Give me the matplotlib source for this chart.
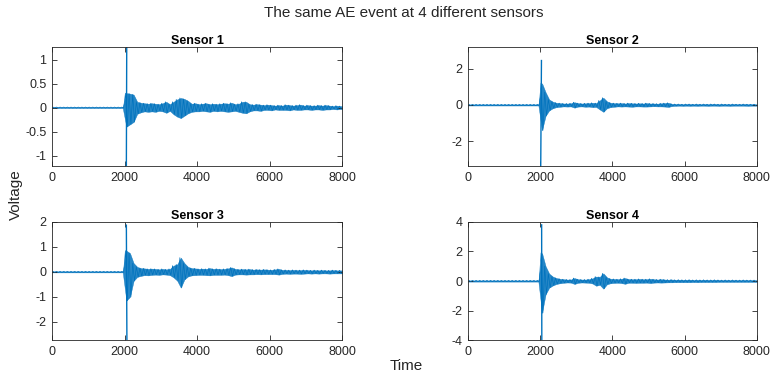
import matplotlib
matplotlib.use("Agg")
import numpy as np
import matplotlib.pyplot as plt

plt.rcParams['font.family'] = ['Liberation Sans', 'DejaVu Sans']
plt.rcParams['axes.unicode_minus'] = False

# envelope of each waveform, one value per 100-sample bin (t = 0 ... 7900)
bin_start = list(range(0, 8000, 100))

s1_up = [0.01, 0.01, 0.01, 0.01, 0.01, 0.01, 0.01, 0.01, 0.01, 0.01,
         0.01, 0.01, 0.01, 0.01, 0.01, 0.01, 0.01, 0.01, 0.01, 0.01,
         0.30, 0.29, 0.27, 0.12, 0.10, 0.09, 0.08, 0.09, 0.08, 0.07,
         0.09, 0.12, 0.07, 0.12, 0.17, 0.20, 0.18, 0.14, 0.08, 0.09,
         0.07, 0.08, 0.09, 0.07, 0.08, 0.07, 0.08, 0.09, 0.08, 0.10,
         0.07, 0.08, 0.12, 0.12, 0.07, 0.06, 0.07, 0.06, 0.05, 0.06,
         0.05, 0.04, 0.05, 0.04, 0.06, 0.05, 0.04, 0.05, 0.06, 0.04,
         0.05, 0.04, 0.04, 0.05, 0.04, 0.05, 0.04, 0.03, 0.04, 0.03]
s1_lo = [-0.01, -0.01, -0.01, -0.01, -0.01, -0.01, -0.01, -0.01, -0.01, -0.01,
         -0.01, -0.01, -0.01, -0.01, -0.01, -0.01, -0.01, -0.01, -0.01, -0.01,
         -0.40, -0.35, -0.30, -0.13, -0.10, -0.08, -0.09, -0.08, -0.09, -0.07,
         -0.08, -0.11, -0.07, -0.14, -0.19, -0.22, -0.17, -0.12, -0.09, -0.08,
         -0.08, -0.07, -0.08, -0.09, -0.07, -0.08, -0.07, -0.08, -0.09, -0.08,
         -0.07, -0.09, -0.11, -0.12, -0.08, -0.06, -0.06, -0.07, -0.05, -0.05,
         -0.06, -0.04, -0.05, -0.05, -0.05, -0.06, -0.04, -0.05, -0.05, -0.04,
         -0.04, -0.05, -0.04, -0.04, -0.05, -0.04, -0.04, -0.03, -0.04, -0.03]

s2_up = [0.03, 0.03, 0.03, 0.03, 0.03, 0.03, 0.03, 0.03, 0.03, 0.03,
         0.03, 0.03, 0.03, 0.03, 0.03, 0.03, 0.03, 0.03, 0.03, 0.03,
         1.20, 0.70, 0.30, 0.18, 0.12, 0.10, 0.08, 0.08, 0.09, 0.15,
         0.10, 0.08, 0.09, 0.10, 0.12, 0.10, 0.25, 0.40, 0.20, 0.12,
         0.10, 0.09, 0.10, 0.08, 0.10, 0.09, 0.08, 0.09, 0.08, 0.10,
         0.08, 0.08, 0.07, 0.09, 0.10, 0.12, 0.06, 0.05, 0.05, 0.04,
         0.05, 0.05, 0.04, 0.05, 0.04, 0.05, 0.04, 0.05, 0.05, 0.04,
         0.05, 0.04, 0.04, 0.05, 0.04, 0.04, 0.05, 0.04, 0.04, 0.04]
s2_lo = [-0.03, -0.03, -0.03, -0.03, -0.03, -0.03, -0.03, -0.03, -0.03, -0.03,
         -0.03, -0.03, -0.03, -0.03, -0.03, -0.03, -0.03, -0.03, -0.03, -0.03,
         -1.40, -0.60, -0.30, -0.18, -0.12, -0.10, -0.08, -0.09, -0.08, -0.15,
         -0.09, -0.08, -0.10, -0.09, -0.12, -0.11, -0.25, -0.38, -0.18, -0.12,
         -0.10, -0.08, -0.09, -0.08, -0.09, -0.10, -0.08, -0.08, -0.09, -0.09,
         -0.08, -0.07, -0.08, -0.08, -0.09, -0.11, -0.06, -0.05, -0.04, -0.05,
         -0.04, -0.05, -0.04, -0.05, -0.04, -0.04, -0.05, -0.04, -0.04, -0.05,
         -0.04, -0.04, -0.05, -0.04, -0.04, -0.04, -0.04, -0.05, -0.04, -0.04]

s3_up = [0.02, 0.02, 0.02, 0.02, 0.02, 0.02, 0.02, 0.02, 0.02, 0.02,
         0.02, 0.02, 0.02, 0.02, 0.02, 0.02, 0.02, 0.02, 0.02, 0.02,
         0.85, 0.75, 0.35, 0.20, 0.15, 0.14, 0.12, 0.13, 0.12, 0.10,
         0.12, 0.10, 0.12, 0.25, 0.30, 0.57, 0.35, 0.20, 0.15, 0.14,
         0.12, 0.13, 0.12, 0.15, 0.12, 0.13, 0.11, 0.12, 0.14, 0.18,
         0.12, 0.10, 0.11, 0.10, 0.11, 0.09, 0.10, 0.09, 0.10, 0.09,
         0.08, 0.10, 0.12, 0.08, 0.08, 0.07, 0.08, 0.07, 0.07, 0.08,
         0.07, 0.06, 0.07, 0.06, 0.07, 0.06, 0.06, 0.07, 0.06, 0.06]
s3_lo = [-0.02, -0.02, -0.02, -0.02, -0.02, -0.02, -0.02, -0.02, -0.02, -0.02,
         -0.02, -0.02, -0.02, -0.02, -0.02, -0.02, -0.02, -0.02, -0.02, -0.02,
         -1.15, -1.00, -0.36, -0.20, -0.16, -0.13, -0.14, -0.12, -0.11, -0.12,
         -0.10, -0.11, -0.13, -0.22, -0.35, -0.63, -0.30, -0.18, -0.14, -0.13,
         -0.12, -0.12, -0.13, -0.14, -0.12, -0.12, -0.12, -0.11, -0.13, -0.17,
         -0.11, -0.10, -0.10, -0.11, -0.10, -0.10, -0.09, -0.10, -0.09, -0.09,
         -0.09, -0.09, -0.11, -0.08, -0.07, -0.08, -0.07, -0.07, -0.08, -0.07,
         -0.06, -0.07, -0.06, -0.07, -0.06, -0.06, -0.07, -0.06, -0.06, -0.06]

s4_up = [0.04, 0.04, 0.04, 0.04, 0.04, 0.04, 0.04, 0.04, 0.04, 0.04,
         0.04, 0.04, 0.04, 0.04, 0.04, 0.04, 0.04, 0.04, 0.04, 0.04,
         1.90, 1.00, 0.50, 0.30, 0.20, 0.15, 0.12, 0.10, 0.10, 0.20,
         0.12, 0.10, 0.10, 0.12, 0.18, 0.30, 0.28, 0.52, 0.25, 0.15,
         0.14, 0.12, 0.15, 0.20, 0.13, 0.12, 0.12, 0.14, 0.12, 0.12,
         0.15, 0.12, 0.10, 0.12, 0.10, 0.09, 0.10, 0.08, 0.09, 0.08,
         0.08, 0.09, 0.07, 0.08, 0.07, 0.08, 0.07, 0.07, 0.08, 0.07,
         0.06, 0.07, 0.06, 0.07, 0.06, 0.06, 0.07, 0.06, 0.06, 0.06]
s4_lo = [-0.04, -0.04, -0.04, -0.04, -0.04, -0.04, -0.04, -0.04, -0.04, -0.04,
         -0.04, -0.04, -0.04, -0.04, -0.04, -0.04, -0.04, -0.04, -0.04, -0.04,
         -2.16, -0.90, -0.45, -0.30, -0.20, -0.15, -0.12, -0.10, -0.11, -0.20,
         -0.12, -0.10, -0.11, -0.12, -0.17, -0.32, -0.26, -0.52, -0.22, -0.15,
         -0.13, -0.12, -0.14, -0.19, -0.12, -0.12, -0.13, -0.12, -0.12, -0.11,
         -0.14, -0.11, -0.10, -0.11, -0.10, -0.09, -0.09, -0.08, -0.08, -0.08,
         -0.08, -0.08, -0.07, -0.08, -0.07, -0.07, -0.07, -0.07, -0.07, -0.06,
         -0.06, -0.06, -0.06, -0.06, -0.06, -0.06, -0.06, -0.06, -0.06, -0.06]

# the main spike of each sensor: sample of the top, value, sample of the bottom, value
spike_t_up = [2060, 2035, 2050, 2040]
spike_up = [1.25, 2.45, 1.87, 3.80]
spike_t_lo = [2050, 2015, 2065, 2045]
spike_lo = [-1.22, -3.37, -2.73, -4.00]

titles = ['Sensor 1', 'Sensor 2', 'Sensor 3', 'Sensor 4']
uppers = [s1_up, s2_up, s3_up, s4_up]
lowers = [s1_lo, s2_lo, s3_lo, s4_lo]
ylims = [(-1.22, 1.26), (-3.37, 3.19), (-2.73, 2.0), (-4, 4)]
yticks = [[-1, -0.5, 0, 0.5, 1], [-2, 0, 2], [-2, -1, 0, 1, 2], [-4, -2, 0, 2, 4]]
xticks = [0, 2000, 4000, 6000, 8000]

blue = '#0072BD'
dark = '#262626'

fig = plt.figure(figsize=(7.7, 3.8), dpi=100)
positions = [[0.0675, 0.563, 0.377, 0.313],
             [0.6078, 0.563, 0.375, 0.313],
             [0.0675, 0.105, 0.377, 0.311],
             [0.6078, 0.105, 0.375, 0.311]]

for k in range(4):
    ax = fig.add_axes(positions[k])
    up = uppers[k]
    lo = lowers[k]
    mid = [t + 50 for t in bin_start]
    # band between the lower and upper extent of each bin
    ax.fill_between([0] + mid + [8000], [up[0]] + up + [up[-1]],
                    [lo[0]] + lo + [lo[-1]], color=blue, lw=0.3, alpha=0.85)
    # jagged trace: top and bottom of each bin in turn
    xs = []
    ys = []
    for t, u, l in zip(bin_start, up, lo):
        xs += [t + 25, t + 75]
        ys += [u, l]
    ax.plot(xs, ys, color=blue, lw=0.5)
    # the spike
    ax.plot([spike_t_up[k], spike_t_lo[k]], [spike_up[k], spike_lo[k]],
            color=blue, lw=1.0)
    ax.set_xlim(0, 8000)
    ax.set_ylim(*ylims[k])
    ax.set_xticks(xticks)
    ax.set_yticks(yticks[k])
    ax.set_yticklabels([('%g' % v) for v in yticks[k]])
    ax.set_title(titles[k], fontsize=9, fontweight='bold', color='black', pad=2)
    ax.tick_params(direction='in', length=3.5, width=0.6, colors=dark,
                   labelsize=9, top=True, right=True, pad=4)
    for s in ax.spines.values():
        s.set_color(dark)
        s.set_linewidth(0.6)

fig.suptitle('The same AE event at 4 different sensors', fontsize=11, color=dark,
             x=0.525, y=0.985)
fig.text(0.021, 0.487, 'Voltage', rotation=90, fontsize=11, color=dark,
         ha='center', va='center')
fig.text(0.527, 0.037, 'Time', fontsize=11, color=dark, ha='center', va='center')

fig.savefig('out.png', dpi=100)
